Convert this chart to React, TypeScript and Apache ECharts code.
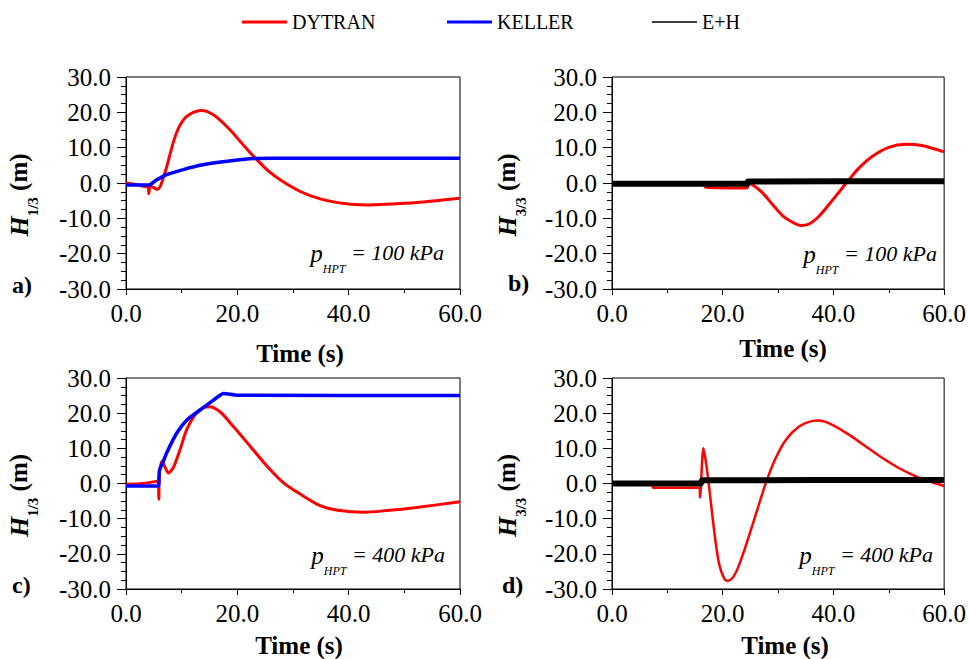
import React, { useEffect, useRef } from "react";
import * as echarts from "echarts";

const FONT = "Liberation Serif";
const RED = "#ff0000";
const BLUE = "#0000ff";
const BLACK = "#000000";

// x ticks / y ticks
const xMin = 0, xMax = 60, xStep = 20;
const yMin = -30, yMax = 30, yStep = 10;

// Panel a) H1/3, 100 kPa
const aDytranT = [0, 2, 3.5, 4, 4.1, 4.3, 5, 5.6, 6.2, 6.7, 7.3, 7.9, 8.5, 9.1, 9.8, 10.6, 11.6, 12.7, 13.6, 14.6, 15.7, 16.9, 18.1, 19.3, 20.5, 21.8, 23.2, 25.3, 27.7, 31.3, 34.9, 39.6, 43.2, 46.8, 52.2, 60];
const aDytranV = [0, -0.5, -1, -1.2, -3, -1, -1.3, -1.8, -0.8, 1.5, 4.5, 8, 11.5, 14.3, 16.6, 18.4, 19.6, 20.3, 20.5, 20.2, 19.3, 17.8, 16, 14, 11.8, 9.5, 7.1, 3.8, 0.9, -2.4, -4.5, -5.9, -6.2, -6.0, -5.5, -4.3];
const aKellerT = [0, 4, 5.5, 7.3, 10.3, 13.3, 16.3, 19.3, 22.9, 26, 60];
const aKellerV = [-0.6, -0.6, 0.9, 2.4, 3.8, 5, 5.8, 6.4, 6.9, 7, 7];

// Panel b) H3/3, 100 kPa
const bDytranT = [0, 16.5, 17, 24.4, 24.6, 25.4, 27.2, 29, 30.8, 32.6, 34.1, 35.6, 37.4, 39.2, 41, 42.8, 44.6, 47, 50, 53, 56, 60];
const bDytranV = [-0.2, -0.3, -1.2, -1.4, 0, -0.5, -2.8, -6.1, -9.2, -11.1, -12, -11.6, -9.4, -6.1, -2.6, 0.9, 4.2, 7.5, 10.1, 11, 10.6, 8.8];
const bEHT = [0, 24.5, 24.6, 60];
const bEHV = [-0.2, -0.2, 0.4, 0.5];

// Panel c) H1/3, 400 kPa
const cDytranT = [0, 3, 5.8, 5.9, 6.0, 6.5, 7.6, 8.5, 9.7, 10.9, 12.4, 13.9, 15.1, 16.9, 19.3, 22.3, 25.3, 28.3, 31.3, 34.9, 38.4, 42.6, 46.8, 52.2, 60];
const cDytranV = [-0.2, 0, 0.7, -4.5, 3, 6.3, 3, 4.5, 9.6, 15.3, 19.5, 21.6, 21.8, 20.4, 16.2, 10.6, 5, 0.2, -3, -6.3, -7.7, -8.2, -7.7, -6.8, -5.2];
const cKellerT = [0, 5.8, 6.0, 6.7, 7.3, 9.1, 10.9, 13.3, 15.7, 16.9, 17.5, 20, 60];
const cKellerV = [-0.7, -0.7, 3.6, 6.3, 8.7, 14.3, 18, 20.9, 23.7, 25.1, 25.6, 25.1, 25.0];

// Panel d) H3/3, 400 kPa
const dDytranT = [0, 7.3, 7.4, 15.8, 15.9, 16.5, 17, 17.6, 18.2, 18.8, 19.4, 20.3, 20.9, 21.8, 22.7, 24.2, 26, 27.8, 29.6, 31.4, 33.8, 36.2, 37.4, 39.8, 42.8, 45.8, 48.8, 51.8, 54.8, 57.2, 60];
const dDytranV = [-0.2, -0.3, -1.2, -1.2, -4, 10, 5.8, -1.7, -10.1, -17.6, -23.2, -27.1, -27.7, -26.8, -24.2, -17.6, -8.7, 0.2, 7.3, 12.4, 16.2, 17.8, 17.9, 16.7, 13.9, 10.6, 7.3, 4.4, 2.1, 0.7, -0.7];
const dEHT = [0, 16, 16.3, 60];
const dEHV = [0, 0, 0.9, 1];

const legendNames = ["DYTRAN", "KELLER", "E+H"];
const panelLetters = ["a)", "b)", "c)", "d)"];
const yTitles = ["1/3", "3/3", "1/3", "3/3"];
const pressures = ["100", "100", "400", "400"];

const pairs = (t: number[], v: number[]) => t.map((x, i) => [x, v[i]]);

const tickRich = { t: { fontSize: 25, fontFamily: FONT, color: "#000" } };

export default function App() {
  const ref = useRef<HTMLDivElement>(null);
  useEffect(() => {
    if (!ref.current) return;
    const chart = echarts.init(ref.current, undefined, { renderer: "svg" });

    const grids = [
      { left: 126, top: 77, width: 334, height: 212 },
      { left: 612, top: 77, width: 334, height: 212 },
      { left: 126, top: 378, width: 334, height: 213 },
      { left: 612, top: 378, width: 334, height: 213 },
    ];
    const xNameGaps = [52, 47, 44, 44];
    const xNameShift = [14, 10, 12, 14];
    const yNameGaps = [86, 84, 86, 84];

    const xAxis = grids.map((_, i) => ({
      type: "value",
      gridIndex: i,
      min: xMin,
      max: xMax,
      interval: xStep,
      axisLine: { show: true, onZero: false, lineStyle: { color: "#000", width: 1 } },
      axisTick: { show: true, length: 6, lineStyle: { color: "#000" } },
      minorTick: { show: true, splitNumber: 2, length: 4, lineStyle: { color: "#000" } },
      splitLine: { show: false },
      axisLabel: {
        fontSize: 25,
        fontFamily: FONT,
        color: "#000",
        margin: 12,
        formatter: (v: number) => "{t|" + v.toFixed(1) + "}",
        rich: tickRich,
      },
      name: "{t|Time (s)}",
      nameLocation: "middle",
      nameGap: xNameGaps[i],
      nameTextStyle: {
        fontSize: 25,
        fontWeight: "bold",
        fontFamily: FONT,
        color: "#000",
        padding: [0, 0, 0, xNameShift[i]],
        rich: { t: { fontSize: 25, fontWeight: "bold", fontFamily: FONT, color: "#000" } },
      },
    }));

    const yAxis = grids.map((_, i) => ({
      type: "value",
      gridIndex: i,
      min: yMin,
      max: yMax,
      interval: yStep,
      axisLine: { show: true, onZero: false, lineStyle: { color: "#000", width: 1 } },
      axisTick: { show: true, length: 9, lineStyle: { color: "#000" } },
      minorTick: { show: true, splitNumber: 4, length: 5, lineStyle: { color: "#000" } },
      splitLine: { show: false },
      axisLabel: {
        fontSize: 25,
        fontFamily: FONT,
        color: "#000",
        margin: 15,
        formatter: (v: number) => "{t|" + v.toFixed(1) + "}",
        rich: tickRich,
      },
      name: "{h|H}{s|" + yTitles[i] + "}{m| (m)}",
      nameLocation: "middle",
      nameRotate: 90,
      nameGap: yNameGaps[i],
      nameTextStyle: {
        color: "#000",
        fontFamily: FONT,
        padding: [0, 24, 0, 0],
        rich: {
          h: { fontSize: 26, fontWeight: "bold", fontStyle: "italic", fontFamily: FONT, lineHeight: 34, verticalAlign: "top", color: "#000" },
          s: { fontSize: 15, fontWeight: "bold", fontFamily: FONT, lineHeight: 15, verticalAlign: "bottom", color: "#000" },
          m: { fontSize: 25, fontWeight: "bold", fontFamily: FONT, lineHeight: 34, verticalAlign: "top", color: "#000" },
        },
      },
    }));

    const line = (name: string, color: string, width: number, idx: number, data: number[][]) => ({
      type: "line",
      name,
      xAxisIndex: idx,
      yAxisIndex: idx,
      data,
      showSymbol: false,
      symbol: "none",
      color,
      itemStyle: { color },
      lineStyle: { color, width },
      smooth: 0.25,
      z: name === "E+H" ? 4 : name === "KELLER" ? 3 : 2,
    });

    const series = [
      line("DYTRAN", RED, 3, 0, pairs(aDytranT, aDytranV)),
      line("KELLER", BLUE, 3.5, 0, pairs(aKellerT, aKellerV)),
      line("DYTRAN", RED, 3, 1, pairs(bDytranT, bDytranV)),
      line("E+H", BLACK, 6, 1, pairs(bEHT, bEHV)),
      line("DYTRAN", RED, 3, 2, pairs(cDytranT, cDytranV)),
      line("KELLER", BLUE, 3.5, 2, pairs(cKellerT, cKellerV)),
      line("DYTRAN", RED, 2.5, 3, pairs(dDytranT, dDytranV)),
      line("E+H", BLACK, 6, 3, pairs(dEHT, dEHV)),
    ];

    const legendLefts = [237, 442, 647];
    const legendHeights = [3, 3, 1.5];
    const legend = legendNames.map((n, i) => ({
      data: [n],
      left: legendLefts[i],
      top: 7,
      icon: "rect",
      itemWidth: 45,
      itemHeight: legendHeights[i],
      itemGap: 0,
      selectedMode: false,
      formatter: (name: string) => "{t|" + name + "}",
      textStyle: {
        fontSize: 20,
        fontFamily: FONT,
        color: "#000",
        rich: { t: { fontSize: 20, fontFamily: FONT, color: "#000" } },
      },
    }));

    const labelPos = [
      [12, 285],
      [508, 283],
      [12, 585],
      [502, 585],
    ];
    const annPos = [
      [444, 241],
      [937, 242],
      [445, 543],
      [933, 543],
    ];

    const graphic: any[] = [];
    panelLetters.forEach((l, i) => {
      graphic.push({
        type: "text",
        x: labelPos[i][0],
        y: labelPos[i][1],
        style: {
          text: l,
          fontSize: 24,
          fontWeight: "bold",
          fontFamily: FONT,
          fill: "#000",
          textAlign: "left",
          textVerticalAlign: "middle",
          align: "left",
          verticalAlign: "middle",
        },
      });
      graphic.push({
        type: "text",
        x: annPos[i][0],
        y: annPos[i][1],
        style: {
          text: "{p|p}{sub|HPT}{n| = " + pressures[i] + " kPa}",
          fill: "#000",
          fontSize: 22,
          fontStyle: "italic",
          fontFamily: FONT,
          textAlign: "right",
          textVerticalAlign: "top",
          align: "right",
          verticalAlign: "top",
          rich: {
            p: { fontSize: 25, fontStyle: "italic", fontFamily: FONT, lineHeight: 34, verticalAlign: "top", fill: "#000" },
            sub: { fontSize: 12, fontStyle: "italic", fontFamily: FONT, lineHeight: 12, verticalAlign: "bottom", fill: "#000" },
            n: { fontSize: 22, fontStyle: "italic", fontFamily: FONT, lineHeight: 34, verticalAlign: "top", fill: "#000" },
          },
        },
      });
    });

    chart.setOption({
      animation: false,
      backgroundColor: "#fff",
      textStyle: { fontFamily: FONT, color: "#000" },
      legend,
      grid: grids.map((g) => ({ ...g, show: true, borderColor: "#000", borderWidth: 1, backgroundColor: "transparent" })),
      xAxis,
      yAxis,
      series,
      graphic,
    } as any);

    return () => chart.dispose();
  }, []);

  return <div ref={ref} style={{ position: "fixed", left: 0, top: 0, width: 969, height: 659, background: "#fff" }} />;
}
